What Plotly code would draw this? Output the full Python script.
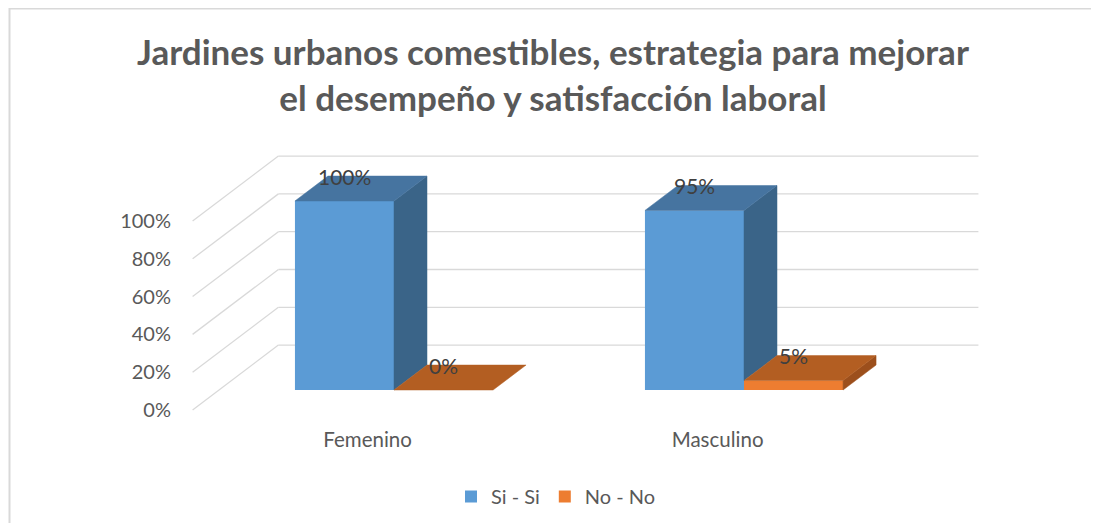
import plotly.graph_objects as go

# ---------------- data ----------------
categories = ["Femenino", "Masculino"]
series_names = ["Si - Si", "No - No"]
si_values = [100, 95]
no_values = [0, 5]
y_ticks = [0, 20, 40, 60, 80, 100]
y_tick_labels = ["0%", "20%", "40%", "60%", "80%", "100%"]
title_text = ("Jardines urbanos comestibles, estrategia para mejorar"
              "<br>el desempeño y satisfacción laboral")

# ---------------- styling / geometry ----------------
FONT = "Lato"
front_colors = ["#5B9BD5", "#ED7D31"]
top_colors = ["#4674A0", "#B35E22"]
side_colors = ["#3A6488", "#9C4F1C"]
GRID = "#D9D9D9"

BAR_W = 0.283      # bar width in category units
DX = 0.0943        # x shift per depth unit
DY = 13.2          # y shift (value units) per depth unit
Z_FRONT = -0.8     # floor front edge
Z_BACK = 1.8       # back wall
X_LEFT = -0.5
X_RIGHT = len(categories) - 0.5


def proj(x, v, z):
    return x + z * DX, v + z * DY


fig = go.Figure()

series_values = [si_values, no_values]
offsets = [-BAR_W, 0.0]

# front faces as real bars
for s, (name, vals) in enumerate(zip(series_names, series_values)):
    fig.add_trace(go.Bar(
        x=list(range(len(categories))), y=vals, name=name,
        width=BAR_W, offset=offsets[s],
        marker=dict(color=front_colors[s], line=dict(width=0)),
        hoverinfo="skip",
    ))

# 3D top and side faces
for i in range(len(categories)):
    for s in range(len(series_values)):
        v = series_values[s][i]
        x0 = i + offsets[s]
        x1 = x0 + BAR_W
        lo = series_values[s + 1][i] if s + 1 < len(series_values) else 0
        lo = min(lo, v)
        if v > lo:
            pts = [proj(x1, lo, 0), proj(x1, v, 0), proj(x1, v, 1), proj(x1, lo, 1), proj(x1, lo, 0)]
            fig.add_trace(go.Scatter(
                x=[p[0] for p in pts], y=[p[1] for p in pts], mode="lines",
                fill="toself", fillcolor=side_colors[s],
                line=dict(width=0.5, color=side_colors[s]),
                hoverinfo="skip", showlegend=False))
        pts = [proj(x0, v, 0), proj(x1, v, 0), proj(x1, v, 1), proj(x0, v, 1), proj(x0, v, 0)]
        fig.add_trace(go.Scatter(
            x=[p[0] for p in pts], y=[p[1] for p in pts], mode="lines",
            fill="toself", fillcolor=top_colors[s],
            line=dict(width=0.5, color=top_colors[s]),
            hoverinfo="skip", showlegend=False))
        cy = proj((x0 + x1) / 2, v, 1)[1]
        cx = (x0 + x1) / 2
        fig.add_annotation(x=cx, y=cy, text=f"{v}%", showarrow=False,
                           xanchor="center", yanchor="middle",
                           font=dict(family=FONT, size=21, color="#404040"))

# gridlines (back wall + left wall), drawn below the traces
shapes = []
for t in y_ticks:
    bx0, by = proj(X_LEFT, t, Z_BACK)
    bx1, _ = proj(X_RIGHT, t, Z_BACK)
    fx, fy = proj(X_LEFT, t, Z_FRONT)
    shapes.append(dict(type="line", xref="x", yref="y", x0=bx0, y0=by, x1=bx1, y1=by,
                       line=dict(color=GRID, width=1.3), layer="below"))
    shapes.append(dict(type="line", xref="x", yref="y", x0=fx, y0=fy, x1=bx0, y1=by,
                       line=dict(color=GRID, width=1.3), layer="below"))

# page offset of the figure (body margin) -> work in page pixels, convert
OFF = 8
W, H = 1099 - 2 * OFF, 531 - 2 * OFF
PL, PR, PT, PB = 180, 1000, 130, 430          # plot area in page px
ML, MT = PL - OFF, PT - OFF
MR, MB = W - (PR - OFF), H - (PB - OFF)
PW, PH = PR - PL, PB - PT

shapes.append(dict(type="rect", xref="paper", yref="paper",
                   x0=(1.5 - ML) / PW, x1=(W + 20 - ML) / PW,
                   y0=(PH - (H + 20 - MT)) / PH, y1=(PH - (0.5 - MT)) / PH,
                   line=dict(color=GRID, width=2), layer="below"))

X_PX = 350.0       # px per category on the front plane
V_PX = 1.89        # px per percentage point
X0_PAGE, V0_PAGE = 394, 390  # page px of x=0, value=0 on the bar front plane
x_range = [(PL - X0_PAGE) / X_PX, (PR - X0_PAGE) / X_PX]
y_range = [(V0_PAGE - PB) / V_PX, (V0_PAGE - PT) / V_PX]

fig.update_layout(
    width=W, height=H,
    margin=dict(l=ML, r=MR, t=MT, b=MB, autoexpand=False),
    paper_bgcolor="white", plot_bgcolor="white",
    shapes=shapes,
    barmode="overlay",
    title=dict(text=title_text, x=(553 - OFF) / W, xanchor="center",
               y=1 - (65 - OFF) / H, yanchor="top", yref="container",
               font=dict(family=FONT, size=35, color="#595959", weight="bold")),
    xaxis=dict(range=x_range, showgrid=False, zeroline=False, showline=False,
               tickmode="array",
               tickvals=[proj(i, 0, Z_FRONT)[0] for i in range(len(categories))],
               ticktext=categories, ticks="", ticklabelstandoff=-5,
               tickfont=dict(family=FONT, size=20.5, color="#595959")),
    yaxis=dict(range=y_range, showgrid=False, zeroline=False, showline=False,
               tickmode="array",
               tickvals=[proj(0, t, Z_FRONT)[1] for t in y_ticks],
               ticktext=y_tick_labels, ticks="", ticklabelstandoff=8,
               tickfont=dict(family=FONT, size=20, color="#595959")),
    legend=dict(orientation="h", x=(556 - PL) / PW, xanchor="center",
                y=(PB - 477) / PH, yanchor="top",
                font=dict(family=FONT, size=20, color="#595959"),
                itemclick=False, bgcolor="rgba(0,0,0,0)"),
    showlegend=True,
)

fig.write_html("out.html")
